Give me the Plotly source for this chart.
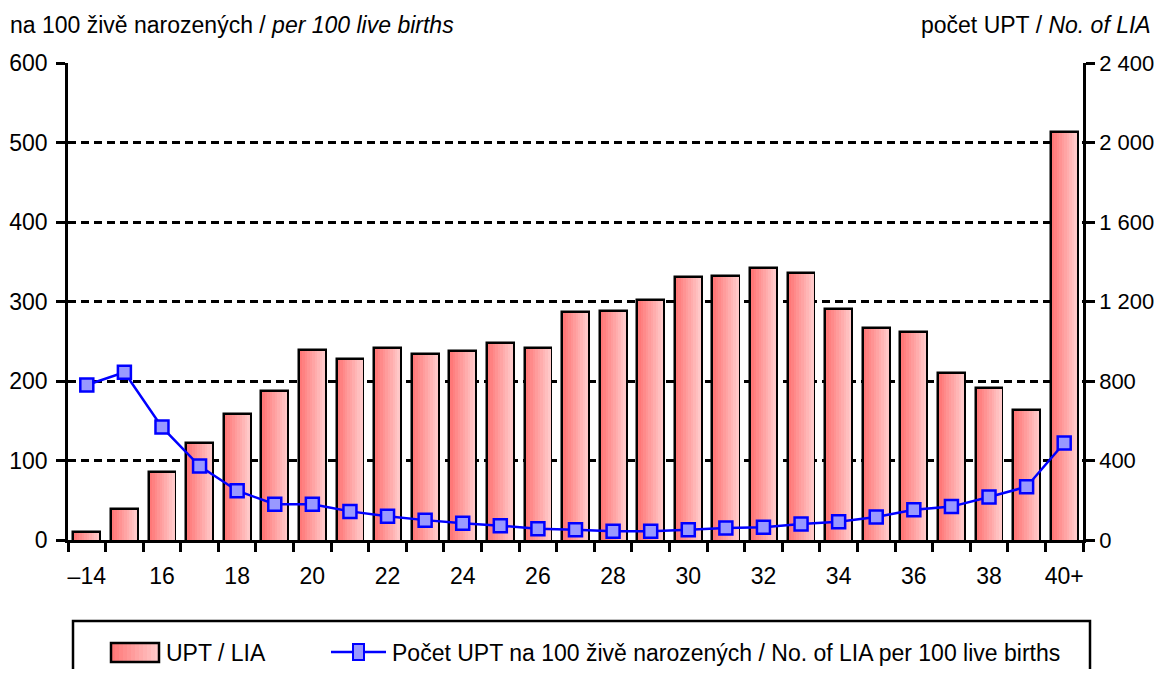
import plotly.graph_objects as go

# věkové skupiny
ages = ["–14", "15", "16", "17", "18", "19", "20", "21", "22", "23", "24", "25", "26", "27",
        "28", "29", "30", "31", "32", "33", "34", "35", "36", "37", "38", "39", "40+"]
# počet UPT (pravá osa)
upt = [35, 151, 337, 483, 629, 745, 951, 906, 961, 931, 946, 986, 961, 1142,
       1147, 1202, 1318, 1323, 1363, 1338, 1157, 1062, 1041, 835, 760, 649, 2048]
# UPT na 100 živě narozených (levá osa)
per100 = [195, 211, 142, 93, 62, 45, 45, 36, 30, 25, 21, 18, 14, 13,
          11, 11, 13, 15, 16, 20, 23, 29, 38, 42, 54, 67, 122]

bar_name = "UPT / LIA"
line_name = "Počet UPT na 100 živě narozených / No. of LIA per 100 live births"

x = list(range(len(ages)))
FONT = "Liberation Sans, Arial, sans-serif"
FS = 23
BAR_W = 0.66
N_STRIPS = 10
C0, C1 = (255, 120, 120), (255, 200, 200)

# stránka má okraj 8 px, graf je o něj menší
OFF = 8
W, H = 1163 - OFF, 677 - 2 * OFF
L, T = 68 - OFF, 63 - OFF
R, B = W - (1083 - OFF), H - (540 - OFF)
PW, PH = W - L - R, H - T - B


def px(v):
    # pixel stránky -> paper
    return (v - OFF - L) / PW


def py(v):
    return (H - B - (v - OFF)) / PH


def grad(t):
    return "rgb(%d,%d,%d)" % tuple(round(a + (b - a) * t) for a, b in zip(C0, C1))


fig = go.Figure()

# obrys sloupců
fig.add_trace(go.Bar(x=x, y=upt, width=BAR_W, name=bar_name, yaxis="y", showlegend=False,
                     marker=dict(color=grad(0.5), line=dict(color="black", width=4.5))))

# gradient z úzkých pruhů
sw = BAR_W / N_STRIPS
for i in range(N_STRIPS):
    fig.add_trace(go.Bar(x=x, y=upt, width=sw * 1.1, offset=-BAR_W / 2 + i * sw, yaxis="y",
                         marker=dict(color=grad(i / (N_STRIPS - 1)), line=dict(width=0)),
                         showlegend=False, hoverinfo="skip"))

fig.add_trace(go.Scatter(x=x, y=per100, yaxis="y2", mode="lines+markers", name=line_name,
                         showlegend=False,
                         line=dict(color="#0000ff", width=2.5),
                         marker=dict(symbol="square", size=13, color="#9999ff",
                                     line=dict(color="#0000ff", width=2.5))))

# legenda ručně (rámeček, symboly, texty)
shapes = [dict(type="rect", xref="paper", yref="paper", x0=px(73), x1=px(1090), y0=py(621), y1=py(700),
               line=dict(color="black", width=2.5), fillcolor="rgba(0,0,0,0)", layer="above")]
n = 12
for i in range(n):
    shapes.append(dict(type="rect", xref="paper", yref="paper",
                       x0=px(111 + 48 * i / n), x1=px(111 + 48 * (i + 1) / n + 0.5),
                       y0=py(643), y1=py(662), line=dict(width=0), fillcolor=grad(i / (n - 1))))
shapes.append(dict(type="rect", xref="paper", yref="paper", x0=px(111), x1=px(159), y0=py(643), y1=py(662),
                   line=dict(color="black", width=2.5), fillcolor="rgba(0,0,0,0)"))
shapes.append(dict(type="line", xref="paper", yref="paper", x0=px(331), x1=px(386), y0=py(652), y1=py(652),
                   line=dict(color="#0000ff", width=2.5)))
shapes.append(dict(type="rect", xref="paper", yref="paper", x0=px(353), x1=px(364), y0=py(644), y1=py(660),
                   line=dict(color="#0000ff", width=2), fillcolor="#9999ff"))

fig.update_layout(
    width=W, height=H,
    margin=dict(l=L, r=R, t=T, b=B, autoexpand=False),
    paper_bgcolor="white", plot_bgcolor="white",
    font=dict(family=FONT, size=FS, color="black"),
    barmode="overlay", bargap=0,
    separators=", ",
    showlegend=False,
    xaxis=dict(range=[-0.5, len(ages) - 0.5], tickmode="array", tickvals=x[::2], ticktext=ages[::2],
               ticks="", ticklen=0, ticklabelstandoff=14,
               showline=True, linecolor="black", linewidth=2.5,
               showgrid=False, zeroline=False,
               minor=dict(tickmode="linear", tick0=-0.5, dtick=1, ticks="outside", ticklen=9,
                          tickwidth=2.5, tickcolor="black", showgrid=False)),
    yaxis=dict(side="right", range=[0, 2400], tickvals=list(range(0, 2401, 400)), tickformat=",d",
               ticks="outside", ticklen=9, tickwidth=2.5, tickcolor="black", ticklabelstandoff=0,
               tickfont=dict(size=22),
               showline=True, linecolor="black", linewidth=2.5,
               showgrid=True, gridcolor="black", gridwidth=2.5, griddash="8px,5px", zeroline=False),
    yaxis2=dict(side="left", overlaying="y", range=[0, 600], tickvals=list(range(0, 601, 100)),
                ticks="outside", ticklen=9, tickwidth=2.5, tickcolor="black", ticklabelstandoff=4,
                showline=True, linecolor="black", linewidth=2.5,
                showgrid=False, zeroline=False),
    shapes=shapes,
    annotations=[
        dict(text="na 100 živě narozených / <i>per 100 live births</i>", xref="paper", yref="paper",
             x=px(8), y=py(25), xanchor="left", yanchor="middle", showarrow=False),
        dict(text="počet UPT / <i>No. of LIA</i>", xref="paper", yref="paper",
             x=px(1153), y=py(25), xanchor="right", yanchor="middle", showarrow=False),
        dict(text=bar_name, xref="paper", yref="paper",
             x=px(164), y=py(653), xanchor="left", yanchor="middle", showarrow=False),
        dict(text=line_name, xref="paper", yref="paper",
             x=px(390), y=py(653), xanchor="left", yanchor="middle", showarrow=False),
    ],
)

fig.write_html("out.html")
